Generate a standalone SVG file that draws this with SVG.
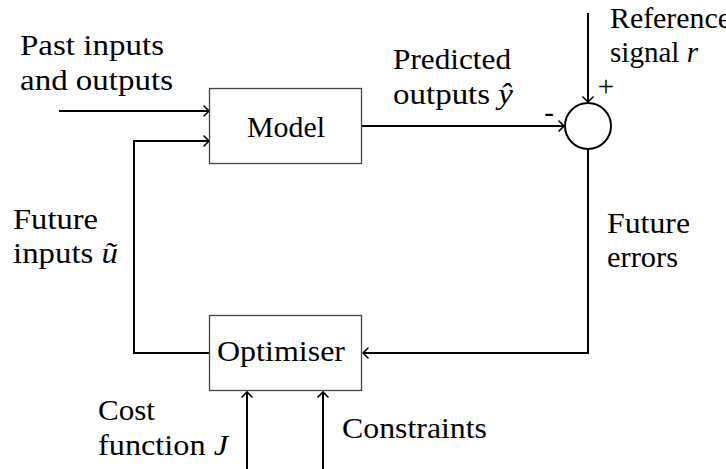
<svg xmlns="http://www.w3.org/2000/svg" width="726" height="469" viewBox="0 0 726 469">
  <style>
    text.lbl { font-family: 'Liberation Serif', serif !important; font-size: 29px; fill: #000; }
    .m { font-style: italic; }
    .box { fill: #fff; stroke: #444; stroke-width: 1.3; }
    .wire { fill: none; stroke: #000; stroke-width: 2; }
  </style>
  <defs>
    <marker id="tip" markerUnits="userSpaceOnUse" markerWidth="12" markerHeight="12" viewBox="-7 -6 8 12" refX="0" refY="0" orient="auto">
      <path d="M -5 -5 Q -1.2 -1.2 0 0 Q -1.2 1.2 -5 5" fill="none" stroke="#000" stroke-width="1.6" stroke-linecap="round"/>
    </marker>
  </defs>

  <rect width="726" height="469" fill="#fff"/>

  <!-- connectors -->
  <g id="connectors" class="wire">
    <path d="M59 111 H209" marker-end="url(#tip)"/>
    <path d="M209 353 H134 V141 H209" marker-end="url(#tip)"/>
    <path d="M362 126 H564" marker-end="url(#tip)"/>
    <path d="M588 13 V102" marker-end="url(#tip)"/>
    <path d="M588 149 V353 H363" marker-end="url(#tip)"/>
    <path d="M247 469 V392" marker-end="url(#tip)"/>
    <path d="M323 469 V392" marker-end="url(#tip)"/>
  </g>

  <!-- blocks -->
  <g id="model">
    <rect class="box" x="209.5" y="88.5" width="152" height="75"/>
    <text class="lbl" style="font-family:'Liberation Serif',serif" font-family="Liberation Serif" x="247" y="137" textLength="78" lengthAdjust="spacingAndGlyphs">Model</text>
  </g>
  <g id="optimiser">
    <rect class="box" x="209.5" y="315.5" width="152" height="75"/>
    <text class="lbl" style="font-family:'Liberation Serif',serif" font-family="Liberation Serif" x="217" y="361" textLength="128" lengthAdjust="spacingAndGlyphs">Optimiser</text>
  </g>
  <g id="summing-junction">
    <circle cx="588" cy="126" r="23" fill="#fff" stroke="#000" stroke-width="2"/>
    <text class="lbl" style="font-family:'Liberation Serif',serif" font-family="Liberation Serif" x="549" y="122" text-anchor="middle">-</text>
    <text class="lbl" style="font-family:'Liberation Serif',serif" font-family="Liberation Serif" x="606" y="96" text-anchor="middle">+</text>
  </g>

  <!-- signal labels -->
  <g id="labels">
    <text class="lbl" style="font-family:'Liberation Serif',serif" font-family="Liberation Serif" x="20" y="55" textLength="144" lengthAdjust="spacingAndGlyphs">Past inputs</text>
    <text class="lbl" style="font-family:'Liberation Serif',serif" font-family="Liberation Serif" x="20" y="90" textLength="153" lengthAdjust="spacingAndGlyphs">and outputs</text>

    <text class="lbl" style="font-family:'Liberation Serif',serif" font-family="Liberation Serif" x="393" y="69" textLength="118" lengthAdjust="spacingAndGlyphs">Predicted</text>
    <text class="lbl" style="font-family:'Liberation Serif',serif" font-family="Liberation Serif" x="393" y="104" textLength="120" lengthAdjust="spacingAndGlyphs">outputs <tspan class="m">&#375;</tspan></text>

    <text class="lbl" style="font-family:'Liberation Serif',serif" font-family="Liberation Serif" x="610" y="28" textLength="121" lengthAdjust="spacingAndGlyphs">Reference</text>
    <text class="lbl" style="font-family:'Liberation Serif',serif" font-family="Liberation Serif" x="610" y="62" textLength="88" lengthAdjust="spacingAndGlyphs">signal <tspan class="m">r</tspan></text>

    <text class="lbl" style="font-family:'Liberation Serif',serif" font-family="Liberation Serif" x="13" y="229" textLength="85" lengthAdjust="spacingAndGlyphs">Future</text>
    <text class="lbl" style="font-family:'Liberation Serif',serif" font-family="Liberation Serif" x="13" y="263" textLength="105" lengthAdjust="spacingAndGlyphs">inputs <tspan class="m">&#361;</tspan></text>

    <text class="lbl" style="font-family:'Liberation Serif',serif" font-family="Liberation Serif" x="607" y="233" textLength="83" lengthAdjust="spacingAndGlyphs">Future</text>
    <text class="lbl" style="font-family:'Liberation Serif',serif" font-family="Liberation Serif" x="607" y="267" textLength="71" lengthAdjust="spacingAndGlyphs">errors</text>

    <text class="lbl" style="font-family:'Liberation Serif',serif" font-family="Liberation Serif" x="98" y="420" textLength="57" lengthAdjust="spacingAndGlyphs">Cost</text>
    <text class="lbl" style="font-family:'Liberation Serif',serif" font-family="Liberation Serif" x="98" y="455" textLength="130" lengthAdjust="spacingAndGlyphs">function <tspan class="m">J</tspan></text>

    <text class="lbl" style="font-family:'Liberation Serif',serif" font-family="Liberation Serif" x="342" y="438" textLength="145" lengthAdjust="spacingAndGlyphs">Constraints</text>
  </g>
</svg>
